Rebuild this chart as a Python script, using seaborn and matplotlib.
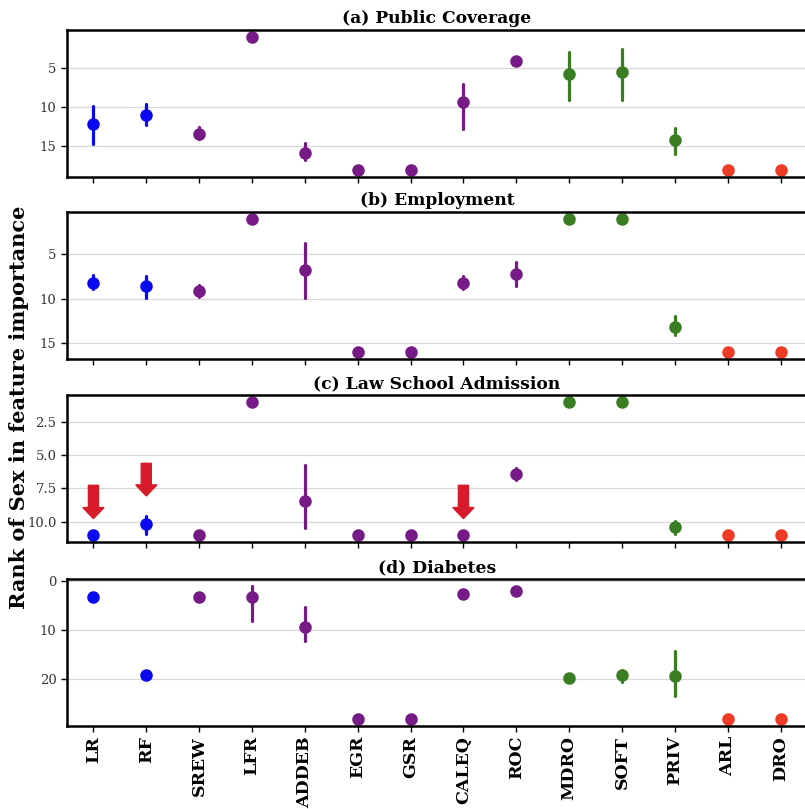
import numpy as np
import pandas as pd
import seaborn as sns
import matplotlib.pyplot as plt

# Methods on the shared x axis and the family each one belongs to
methods = ["LR", "RF", "SREW", "LFR", "ADDEB", "EGR", "GSR", "CALEQ", "ROC",
           "MDRO", "SOFT", "PRIV", "ARL", "DRO"]
families = ["base", "base", "pre", "pre", "pre", "pre", "pre", "pre", "pre",
            "robust", "robust", "robust", "dro", "dro"]
family_colors = {"base": "#0a0af0", "pre": "#761a86", "robust": "#3a7d22", "dro": "#ee3b26"}

titles = ["(a) Public Coverage", "(b) Employment", "(c) Law School Admission", "(d) Diabetes"]

# Rank of Sex (median) with its low / high interval for every method
rank_a = [12.2, 11.0, 13.4, 1, 15.8, 18, 18, 9.3, 4.15, 5.75, 5.55, 14.2, 18, 18]
low_a = [9.8, 9.6, 12.5, 1, 14.6, 18, 18, 7.0, 3.8, 2.95, 2.55, 12.6, 18, 18]
high_a = [14.7, 12.3, 14.1, 1, 16.7, 18, 18, 12.8, 4.5, 9.1, 9.1, 16.0, 18, 18]

rank_b = [8.25, 8.6, 9.2, 1, 6.8, 16, 16, 8.2, 7.2, 1, 1, 13.2, 16, 16]
low_b = [7.3, 7.45, 8.5, 1, 3.7, 16, 16, 7.5, 5.85, 1, 1, 12.0, 16, 16]
high_b = [8.9, 9.95, 9.8, 1, 9.95, 16, 16, 8.95, 8.6, 1, 1, 14.1, 16, 16]

rank_c = [11, 10.2, 11, 1, 8.45, 11, 11, 11, 6.4, 1, 1, 10.4, 11, 11]
low_c = [11, 9.6, 11, 1, 5.75, 11, 11, 11, 5.95, 1, 1, 9.95, 11, 11]
high_c = [11, 10.9, 11, 1, 10.5, 11, 11, 11, 6.9, 1, 1, 10.9, 11, 11]

rank_d = [3.2, 19.05, 3.2, 3.4, 9.3, 28, 28, 2.7, 2.0, 19.8, 19.2, 19.3, 28, 28]
low_d = [3.2, 19.05, 3.2, 1.0, 5.35, 28, 28, 2.7, 2.0, 19.3, 18.0, 14.3, 28, 28]
high_d = [3.2, 19.05, 3.2, 8.1, 12.25, 28, 28, 2.7, 2.0, 20.3, 20.5, 23.3, 28, 28]

# Highlight arrows in the Law School panel (method, arrow start, arrow tip)
arrow_methods = ["LR", "RF", "CALEQ"]
arrow_start = [7.28, 5.63, 7.28]
arrow_tip = [9.78, 8.08, 9.78]

sns.set_theme(style="whitegrid", rc={
    "axes.edgecolor": "black",
    "axes.linewidth": 1.8,
    "grid.color": "#d8d8d8",
    "grid.linewidth": 0.9,
    "xtick.bottom": True,
    "ytick.left": True,
    "xtick.major.size": 4,
    "ytick.major.size": 4,
    "xtick.major.width": 1,
    "ytick.major.width": 1,
    "xtick.color": "black",
    "ytick.color": "black",
    "ytick.labelcolor": "#333333",
    "text.color": "black",
    "axes.titlecolor": "black",
})
plt.rcParams["font.family"] = ["DejaVu Serif"]

fig, axes = plt.subplots(4, 1, figsize=(8.05, 8.09), dpi=100, sharex=True)

panels = [(rank_a, low_a, high_a), (rank_b, low_b, high_b),
          (rank_c, low_c, high_c), (rank_d, low_d, high_d)]
tops_px = [30, 212, 395, 579]
W, H = 805, 809

for i, (ax, title, (rank, low, high)) in enumerate(zip(axes, titles, panels)):
    frames = [pd.DataFrame({"method": methods, "family": families, "rank": vals})
              for vals in (low, rank, high)]
    df = pd.concat(frames, ignore_index=True)
    sns.pointplot(data=df, x="method", y="rank", hue="family", order=methods,
                  palette=family_colors, estimator="median",
                  errorbar=lambda v: (v.min(), v.max()),
                  linestyle="none", markersize=7, err_kws={"linewidth": 2.3},
                  legend=False, ax=ax)
    ax.invert_yaxis()
    ax.set_xlim(-0.5, len(methods) - 0.5)
    ax.set_xlabel("")
    ax.set_ylabel("")
    ax.set_title(title, fontweight="bold", fontsize=12.3, pad=5, color="black")
    ax.tick_params(axis="y", labelsize=9.5)
    ax.set_position([67 / W, 1 - (tops_px[i] + 146.5) / H, 740 / W, 146.5 / H])

# Red arrows pointing at the highlighted methods
ax_c = axes[2]
for m, y0, y1 in zip(arrow_methods, arrow_start, arrow_tip):
    x = methods.index(m)
    ax_c.arrow(x, y0, 0, y1 - y0, width=0.19, head_width=0.40, head_length=0.83,
               length_includes_head=True, color="#d81b2b", zorder=5)

bottom = axes[-1]
bottom.set_xticks(range(len(methods)))
bottom.set_xticklabels(methods, rotation=90, fontweight="bold", fontsize=12.5, color="black")

fig.text(19 / W, 0.497, "Rank of Sex in feature importance", rotation=90,
         ha="center", va="center", fontweight="bold", fontsize=15, color="black")

fig.savefig("out.png", dpi=100)
